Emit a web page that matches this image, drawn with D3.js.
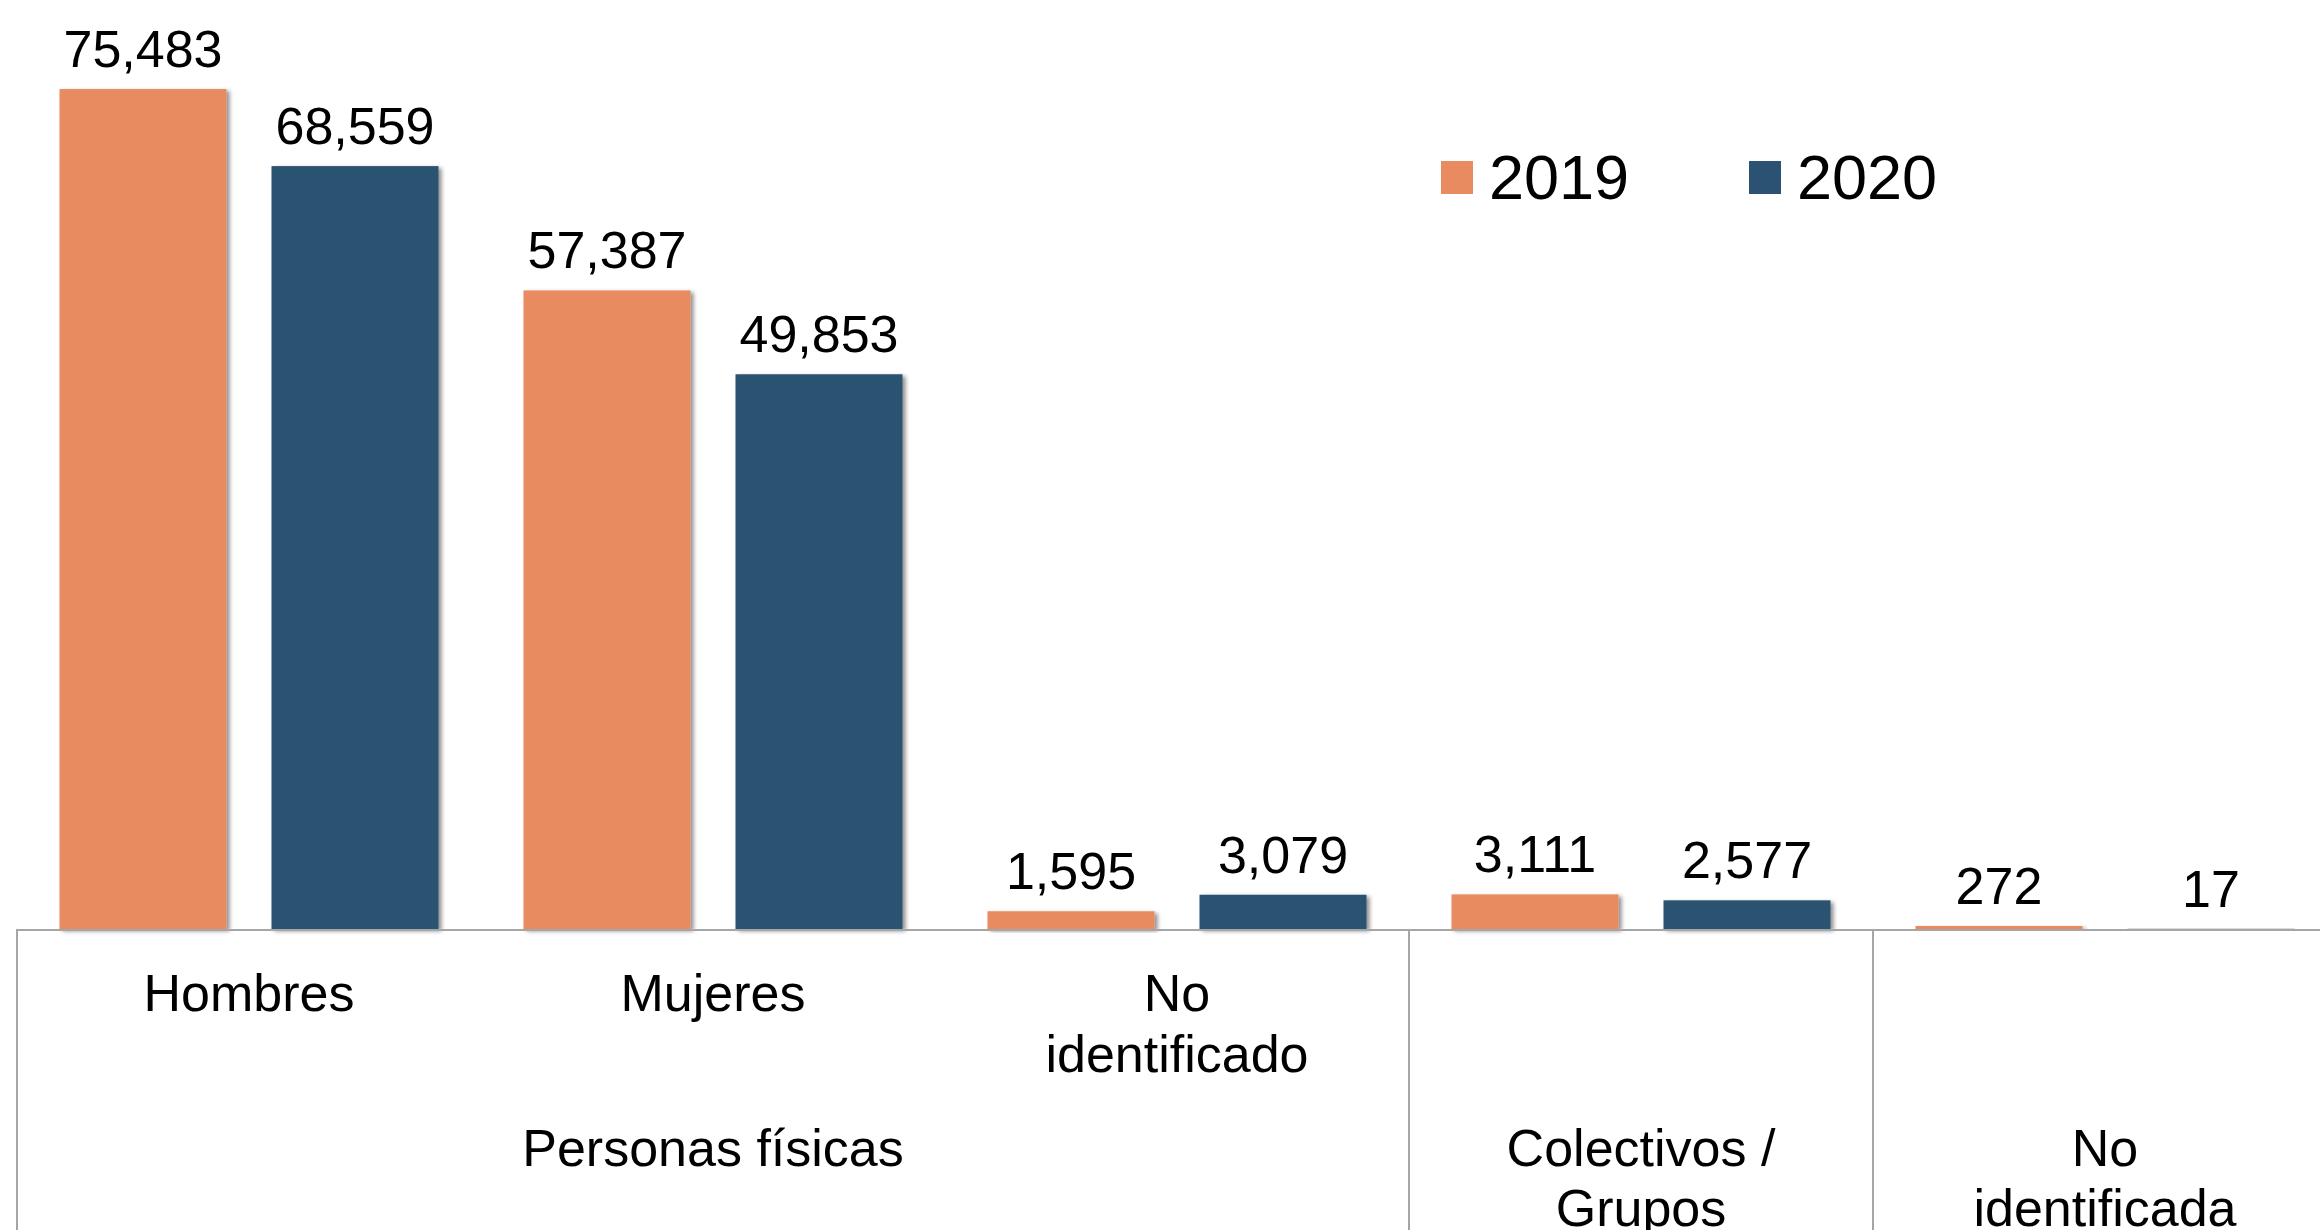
<!DOCTYPE html>
<html>
<head>
<meta charset="utf-8">
<script src="https://cdn.jsdelivr.net/npm/d3@7"></script>
<style>
  html, body { margin: 0; padding: 0; background: #ffffff; }
  svg { display: block; }
  text { font-family: "Liberation Sans", Arial, sans-serif; fill: #000; }
</style>
</head>
<body>
<svg id="chart" width="2320" height="1230"></svg>
<script>
// ---- Data ----
const categories = ["Hombres", "Mujeres", "No identificado", "Colectivos / Grupos", "No identificada"];
const groups = ["Personas físicas", "Personas físicas", "Personas físicas", "", ""];
const groupLabels = [
  { name: "Personas físicas", from: 0, to: 2, lines: ["Personas físicas"] },
  { name: "Colectivos / Grupos", from: 3, to: 3, lines: ["Colectivos /", "Grupos"] },
  { name: "No identificada", from: 4, to: 4, lines: ["No", "identificada"] }
];
const categoryLines = [["Hombres"], ["Mujeres"], ["No", "identificado"], [], []];
const seriesNames = ["2019", "2020"];
const values2019 = [75483, 57387, 1595, 3111, 272];
const values2020 = [68559, 49853, 3079, 2577, 17];
const colors = ["#E98B60", "#2B5272"];

// ---- Layout ----
const svg = d3.select("#chart");
const left = 17, bandW = 464, baseY = 929;
const x = d3.scaleBand()
  .domain(d3.range(categories.length))
  .range([left, left + bandW * categories.length])
  .paddingInner(0).paddingOuter(0);
const xInner = d3.scaleBand()
  .domain(seriesNames)
  .range([0, bandW])
  .paddingInner(45 / 212)
  .paddingOuter(42.5 / 212);
const y = d3.scaleLinear().domain([0, 80000]).range([baseY, baseY - 890.2]);

const fmt = d3.format(",");

// shadow filter
const defs = svg.append("defs");
const f = defs.append("filter").attr("id", "shadow")
  .attr("x", "-10%").attr("y", "-10%").attr("width", "130%").attr("height", "130%");
f.append("feDropShadow").attr("dx", 3).attr("dy", 2).attr("stdDeviation", 2.2)
  .attr("flood-color", "#000").attr("flood-opacity", 0.45);

const data = [];
categories.forEach((c, i) => {
  data.push({ i, s: "2019", v: values2019[i], color: colors[0] });
  data.push({ i, s: "2020", v: values2020[i], color: colors[1] });
});

// bars
svg.append("g").selectAll("rect").data(data).join("rect")
  .attr("x", d => x(d.i) + xInner(d.s))
  .attr("y", d => y(d.v))
  .attr("width", xInner.bandwidth())
  .attr("height", d => baseY - y(d.v))
  .attr("fill", d => d.color)
  .attr("filter", "url(#shadow)");

// value labels
svg.append("g").selectAll("text").data(data).join("text")
  .attr("x", d => x(d.i) + xInner(d.s) + xInner.bandwidth() / 2)
  .attr("y", d => y(d.v) - 22)
  .attr("text-anchor", "middle")
  .attr("font-size", 52)
  .text(d => fmt(d.v));

// axis lines
const axisColor = "#A6A6A6";
const axisG = svg.append("g");
axisG.append("line")
  .attr("x1", left).attr("x2", 2320)
  .attr("y1", baseY + 1).attr("y2", baseY + 1)
  .attr("stroke", axisColor).attr("stroke-width", 2);
// vertical separators: left edge and group boundaries
const seps = [0, 3, 4];
axisG.selectAll("line.sep").data(seps).join("line")
  .attr("class", "sep")
  .attr("x1", d => x(d)).attr("x2", d => x(d))
  .attr("y1", baseY).attr("y2", 1230)
  .attr("stroke", axisColor).attr("stroke-width", 2);

// category labels (inner level)
const catG = svg.append("g");
categoryLines.forEach((lines, i) => {
  const t = catG.append("text")
    .attr("x", x(i) + bandW / 2)
    .attr("y", 1011)
    .attr("text-anchor", "middle")
    .attr("font-size", 52);
  lines.forEach((ln, k) => {
    t.append("tspan").attr("x", x(i) + bandW / 2).attr("dy", k === 0 ? 0 : 61).text(ln);
  });
});

// group labels (outer level)
groupLabels.forEach(g => {
  const cx = (x(g.from) + x(g.to) + bandW) / 2;
  const t = svg.append("text")
    .attr("x", cx).attr("y", 1166)
    .attr("text-anchor", "middle")
    .attr("font-size", 52);
  g.lines.forEach((ln, k) => {
    t.append("tspan").attr("x", cx).attr("dy", k === 0 ? 0 : 60).text(ln);
  });
});

// legend
const legendX = [1441, 1749];
const lg = svg.append("g");
seriesNames.forEach((s, k) => {
  lg.append("rect")
    .attr("x", legendX[k]).attr("y", 161)
    .attr("width", 32).attr("height", 33)
    .attr("fill", colors[k]);
  lg.append("text")
    .attr("x", legendX[k] + 48).attr("y", 199)
    .attr("font-size", 63)
    .text(s);
});
</script>
</body>
</html>
